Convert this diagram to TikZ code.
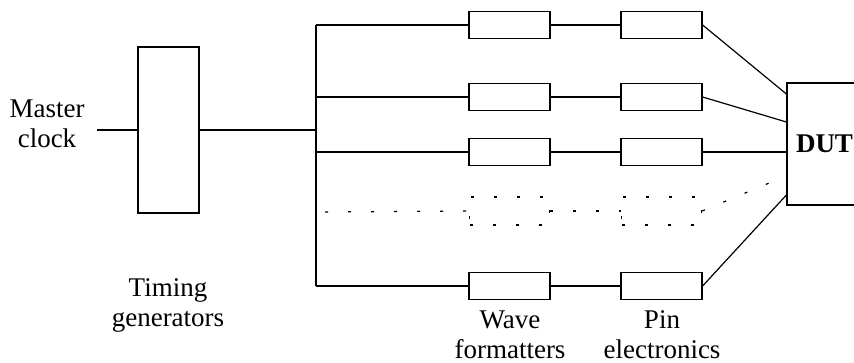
\documentclass[tikz,border=0pt]{standalone}
\usepackage{fontspec}
\setmainfont{Liberation Serif}
\usetikzlibrary{positioning}
\begin{document}
\begin{tikzpicture}[x=1pt,y=-1pt,line width=1.2pt,
  lbl/.style={align=center,font=\fontsize{27}{30}\selectfont,inner sep=0pt},
  blk/.style={draw,minimum width=81pt,minimum height=27pt,inner sep=0pt},
  ghost/.style={draw,dash pattern=on 3pt off 20pt,minimum width=80pt,minimum height=28pt,inner sep=0pt},
  dots/.style={dash pattern=on 3pt off 20pt}]
\useasboundingbox (0,0) rectangle (854,363);
\node[lbl] (mc) at (47,124) {Master\\clock};
\coordinate (mcin) at (97,130);
\node[draw,minimum width=61pt,minimum height=166pt,inner sep=0pt] (tg) at (168.5,130) {};
\node[lbl] (tgl) at (168,305) {Timing\\generators};
\coordinate (bustop) at (316,25);
\coordinate (busbot) at (316,286);
\coordinate (busin) at (316,130);
\node[draw,minimum width=75pt,minimum height=122pt,inner sep=0pt,font=\fontsize{27}{30}\selectfont\bfseries] (dut) at (824.5,144) {DUT};
\node[blk] (w1) at (509.5,25) {};
\node[blk] (p1) at (661.5,25) {};
\node[blk] (w2) at (509.5,97) {};
\node[blk] (p2) at (661.5,97) {};
\node[blk] (w3) at (509.5,152) {};
\node[blk] (p3) at (661.5,152) {};
\node[ghost] (w4) at (509.5,211) {};
\node[ghost] (p4) at (661.5,211) {};
\node[blk] (w5) at (509.5,286) {};
\node[blk] (p5) at (661.5,286) {};
\node[lbl] (wl) at (510,335) {Wave\\formatters};
\node[lbl] (pl) at (662,335) {Pin\\electronics};
\coordinate (d4in) at (325,212);
\coordinate (d4out) at (774,181);
% clock into timing block, then onto the bus
\draw (mcin) -- (tg.west);
\draw (tg.east) -- (busin);
\draw (bustop) -- (busbot);
% channels
\draw (w1.west -| bustop) -- (w1.west);
\draw (w1) -- (p1);
\draw (p1.east) -- (dut.west |- 0,94);
\draw (w2.west -| bustop) -- (w2.west);
\draw (w2) -- (p2);
\draw (p2.east) -- (dut.west |- 0,122);
\draw (w3.west -| bustop) -- (w3.west);
\draw (w3) -- (p3);
\draw (p3.east) -- (dut.west |- p3);
\draw[dots] (d4in) -- (w4.west);
\draw[dots] (w4) -- (p4);
\draw[dots] (p4.east) -- (d4out);
\draw (w5.west -| busbot) -- (w5.west);
\draw (w5) -- (p5);
\draw (p5.east) -- (dut.west |- 0,195);
\end{tikzpicture}
\end{document}
